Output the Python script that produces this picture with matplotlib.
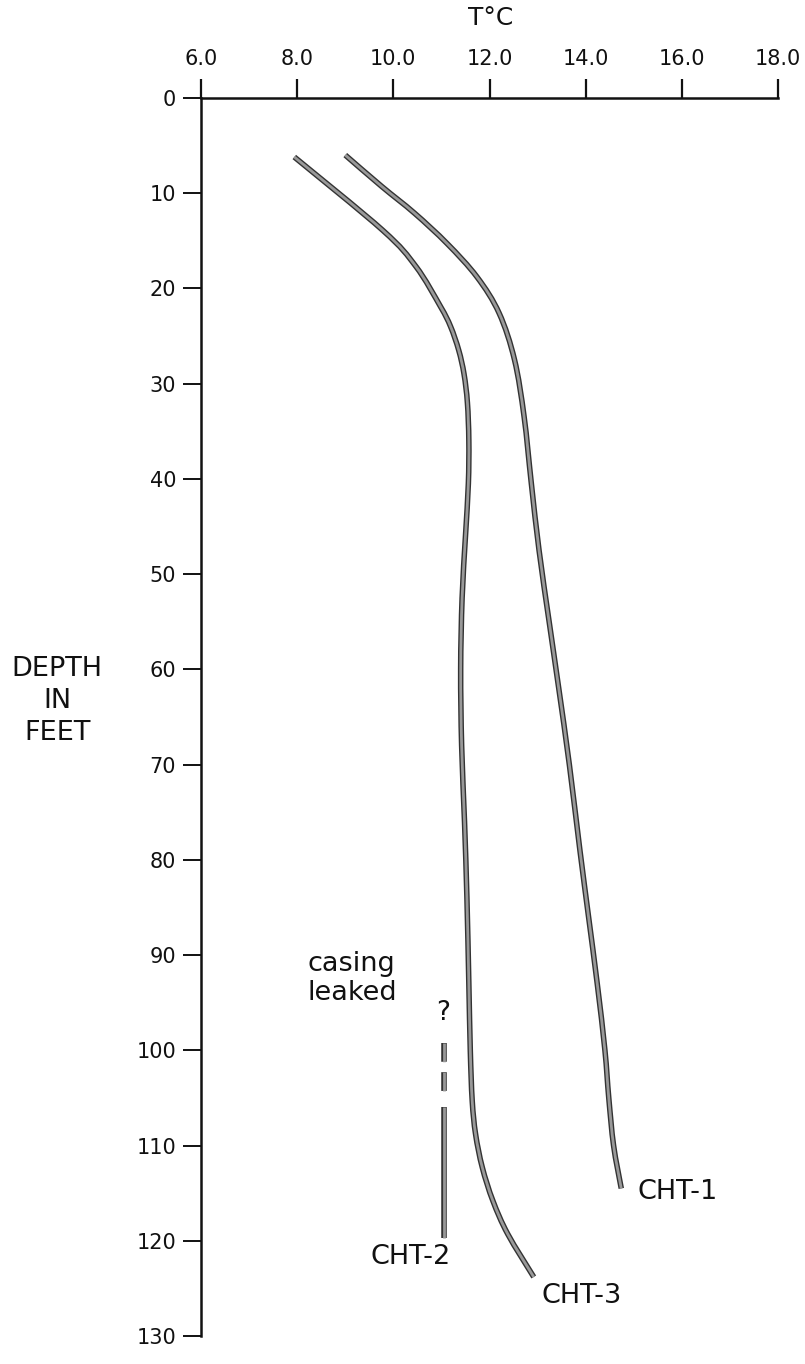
import matplotlib
matplotlib.use("Agg")
import matplotlib.pyplot as plt
import matplotlib.patheffects as pe
from matplotlib.path import Path
from matplotlib.patches import PathPatch

plt.rcParams['font.family'] = ['DejaVu Sans']
plt.rcParams['lines.scale_dashes'] = False

# Temperature profiles (depth in feet, temperature in deg C)
cht1_depth = [6.0, 9.3, 12.1, 15.3, 18.8, 22.6, 27.5, 33.5, 40.5, 47.5, 55.0, 62.0,
              70.0, 79.0, 86.0, 93.0, 100.0, 105.0, 110.0, 114.5]
cht1_temp = [9.00, 9.76, 10.44, 11.12, 11.74, 12.20, 12.52, 12.72, 12.87, 13.03, 13.24, 13.44,
             13.66, 13.88, 14.06, 14.24, 14.40, 14.48, 14.58, 14.74]

cht3_depth = [6.2, 13.9, 17.7, 21.9, 24.0, 26.5, 29.0, 32.0, 36.0, 40.5, 46.0, 52.5, 60.0,
              68.0, 76.0, 84.0, 93.0, 100.0, 105.3, 108.8, 112.3, 115.8, 119.3, 123.8]
cht3_temp = [7.94, 9.78, 10.47, 10.98, 11.19, 11.36, 11.47, 11.54, 11.57, 11.56, 11.50, 11.43, 11.40,
             11.42, 11.48, 11.53, 11.57, 11.60, 11.64, 11.71, 11.85, 12.07, 12.38, 12.92]

# CHT-2: dashed above the uncertain casing leak, solid below
cht2_dashed_depth = [99.2, 104.5]
cht2_solid_depth = [105.9, 119.7]
cht2_temp = 11.05

x_ticks = [6.0, 8.0, 10.0, 12.0, 14.0, 16.0, 18.0]
y_ticks = list(range(0, 131, 10))

INK = '#111111'
OUTER = '#333333'
INNER = '#999999'


def smooth_path(xs, ys):
    """Catmull-Rom curve through the points, expressed as cubic Bezier segments."""
    pts = list(zip(xs, ys))
    ext = [pts[0]] + pts + [pts[-1]]
    verts = [pts[0]]
    codes = [Path.MOVETO]
    for i in range(1, len(ext) - 2):
        p0, p1, p2, p3 = ext[i - 1], ext[i], ext[i + 1], ext[i + 2]
        c1 = (p1[0] + (p2[0] - p0[0]) / 6.0, p1[1] + (p2[1] - p0[1]) / 6.0)
        c2 = (p2[0] - (p3[0] - p1[0]) / 6.0, p2[1] - (p3[1] - p1[1]) / 6.0)
        verts += [c1, c2, p2]
        codes += [Path.CURVE4] * 3
    return Path(verts, codes)


fig = plt.figure(figsize=(8.05, 13.64), dpi=100)
ax = fig.add_axes([0.2497, 0.0205, 0.7168, 0.9077])

stroke = [pe.Stroke(linewidth=4.0, foreground=OUTER), pe.Normal()]

for temps, depths in ((cht1_temp, cht1_depth), (cht3_temp, cht3_depth)):
    ax.add_patch(PathPatch(smooth_path(temps, depths), fill=False,
                           edgecolor=INNER, linewidth=2.0, capstyle='butt',
                           path_effects=stroke))

line_kw = dict(color=INNER, linewidth=2.0, solid_capstyle='butt',
               dash_capstyle='butt', path_effects=stroke)
ax.plot([cht2_temp] * 2, cht2_dashed_depth, dashes=(13.5, 7.5), **line_kw)
ax.plot([cht2_temp] * 2, cht2_solid_depth, **line_kw)

ax.set_xlim(6.0, 18.0)
ax.set_ylim(130, 0)

ax.xaxis.tick_top()
ax.set_xticks(x_ticks)
ax.set_xticklabels([f"{v:.1f}" for v in x_ticks])
ax.set_yticks(y_ticks)
ax.set_yticklabels([str(v) for v in y_ticks])

for side in ('right', 'bottom'):
    ax.spines[side].set_visible(False)
for side in ('left', 'top'):
    ax.spines[side].set_linewidth(1.8)
    ax.spines[side].set_color(INK)

ax.tick_params(axis='x', direction='out', length=13.5, width=1.6, pad=7,
               labelsize=15, colors=INK)
ax.tick_params(axis='y', direction='out', length=13, width=1.4, pad=5,
               labelsize=15, colors=INK)

fig.text(0.609, 0.987, "T°C", ha='center', va='center', fontsize=18, color=INK)

fig.text(0.071, 0.486, "DEPTH\nIN\nFEET", ha='center', va='center',
         fontsize=19.5, linespacing=1.3, color=INK)

# Curve annotations
ax.text(15.07, 114.9, "CHT-1", fontsize=19.5, ha='left', va='center', color=INK)
ax.text(11.2, 121.7, "CHT-2", fontsize=19.5, ha='right', va='center', color=INK)
ax.text(13.08, 125.8, "CHT-3", fontsize=19.5, ha='left', va='center', color=INK)
ax.text(8.22, 92.5, "casing\nleaked", fontsize=19.5, ha='left', va='center',
        linespacing=1.15, color=INK)
ax.text(11.04, 96.1, "?", fontsize=19, ha='center', va='center', color=INK)

fig.savefig("out.png", dpi=100, facecolor='white')
